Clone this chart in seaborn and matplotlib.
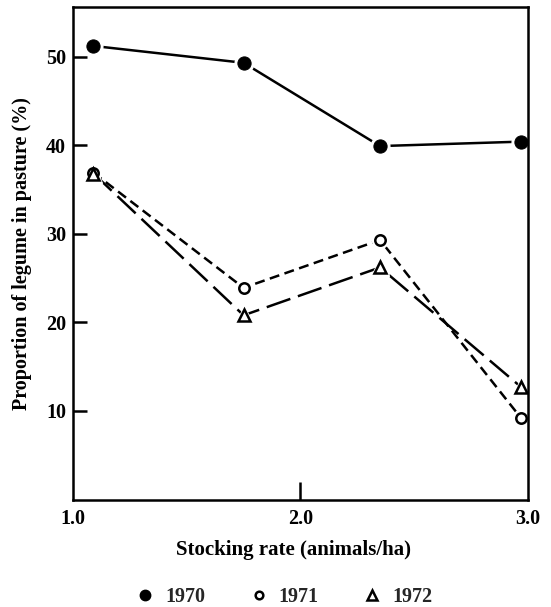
import matplotlib
matplotlib.use("Agg")
import matplotlib.pyplot as plt
from matplotlib.lines import Line2D
import seaborn as sns
import pandas as pd

# Stocking rate (animals/ha) and proportion of legume in pasture (%)
stocking_rate = [1.09, 1.75, 2.35, 2.97]
legume_1970 = [51.2, 49.3, 39.9, 40.4]
legume_1971 = [36.9, 23.9, 29.3, 9.2]
legume_1972 = [36.8, 20.8, 26.2, 12.7]
years = ["1970", "1971", "1972"]
y_ticks = [10, 20, 30, 40, 50]
x_ticks = [1.0, 2.0, 3.0]
x_tick_labels = ["1.0", "2.0", "3.0"]

sns.set_theme(style="white")
plt.rcParams["font.family"] = ["Liberation Serif", "DejaVu Serif"]

fig = plt.figure(figsize=(5.51, 6.07), dpi=100)
ax = fig.add_axes([0.1325, 0.177, 0.8255, 0.8115])

lw = 1.8
series = [
    (legume_1970, "-", dict(marker="o", markersize=9.5, markerfacecolor="black")),
    (legume_1971, (0, (4, 2.2)), dict(marker="o", markersize=7.5,
                                      markerfacecolor="white",
                                      markeredgewidth=1.8)),
    (legume_1972, (0, (10, 3.2)), dict(marker="^", markersize=8.5,
                                       markerfacecolor="white",
                                       markeredgewidth=1.8)),
]
frames = [pd.DataFrame({"x": stocking_rate, "y": v}) for v, _, _ in series]

# connecting lines
for df, (_, ls, _) in zip(frames, series):
    sns.lineplot(data=df, x="x", y="y", ax=ax, color="black", linewidth=lw,
                 linestyle=ls, zorder=2)
# white halos leave a small gap between each line and its markers
for df, (_, _, mstyle) in zip(frames, series):
    halo = dict(mstyle)
    halo.update(markersize=mstyle["markersize"] + 4, markerfacecolor="white",
                markeredgecolor="white", markeredgewidth=1.0)
    sns.lineplot(data=df, x="x", y="y", ax=ax, linestyle="none", zorder=3,
                 color="white", **halo)
# markers
for df, (_, _, mstyle) in zip(frames, series):
    sns.lineplot(data=df, x="x", y="y", ax=ax, linestyle="none", zorder=4,
                 color="black", markeredgecolor="black", **mstyle)

ax.set_xlim(1.0, 3.0)
ax.set_ylim(0, 55.6)
ax.set_yticks(y_ticks)
ax.set_yticklabels([str(t) for t in y_ticks])
ax.set_xticks(x_ticks)
ax.set_xticklabels(x_tick_labels)

for side in ["left", "right", "top", "bottom"]:
    ax.spines[side].set_visible(True)
    ax.spines[side].set_color("black")
    ax.spines[side].set_linewidth(1.8)
    ax.spines[side].set_zorder(5)

ax.tick_params(axis="y", direction="in", length=10, width=1.8, left=True,
               labelsize=14.5, pad=5, colors="black")
ax.tick_params(axis="x", direction="in", length=13, width=1.8, bottom=True,
               labelsize=14.5, pad=7, colors="black")
# Only the middle x tick carries a mark; the ends sit on the frame
xt = ax.xaxis.get_major_ticks()
xt[0].tick1line.set_visible(False)
xt[2].tick1line.set_visible(False)
for lab in ax.get_xticklabels() + ax.get_yticklabels():
    lab.set_fontweight("bold")

ax.set_xlabel("Stocking rate (animals/ha)", fontsize=15, fontweight="bold",
              labelpad=8, color="black")
ax.xaxis.label.set_x(0.485)
ax.set_ylabel("Proportion of legume in pasture (%)", fontsize=14.5,
              fontweight="bold", labelpad=10, color="black")
ax.grid(False)

handles = [
    Line2D([], [], linestyle="none", marker="o", markersize=7.5,
           markerfacecolor="black", markeredgecolor="black"),
    Line2D([], [], linestyle="none", marker="o", markersize=5.5,
           markerfacecolor="white", markeredgecolor="black", markeredgewidth=1.8),
    Line2D([], [], linestyle="none", marker="^", markersize=6.5,
           markerfacecolor="white", markeredgecolor="black", markeredgewidth=1.8),
]
fig.legend(handles, years, loc="center", bbox_to_anchor=(0.515, 0.0165),
           ncol=3, frameon=False, handletextpad=0.5, columnspacing=2.15,
           handlelength=1.0, borderpad=0.2,
           prop={"weight": "bold", "size": 14.5})

fig.savefig("out.png", dpi=100)
